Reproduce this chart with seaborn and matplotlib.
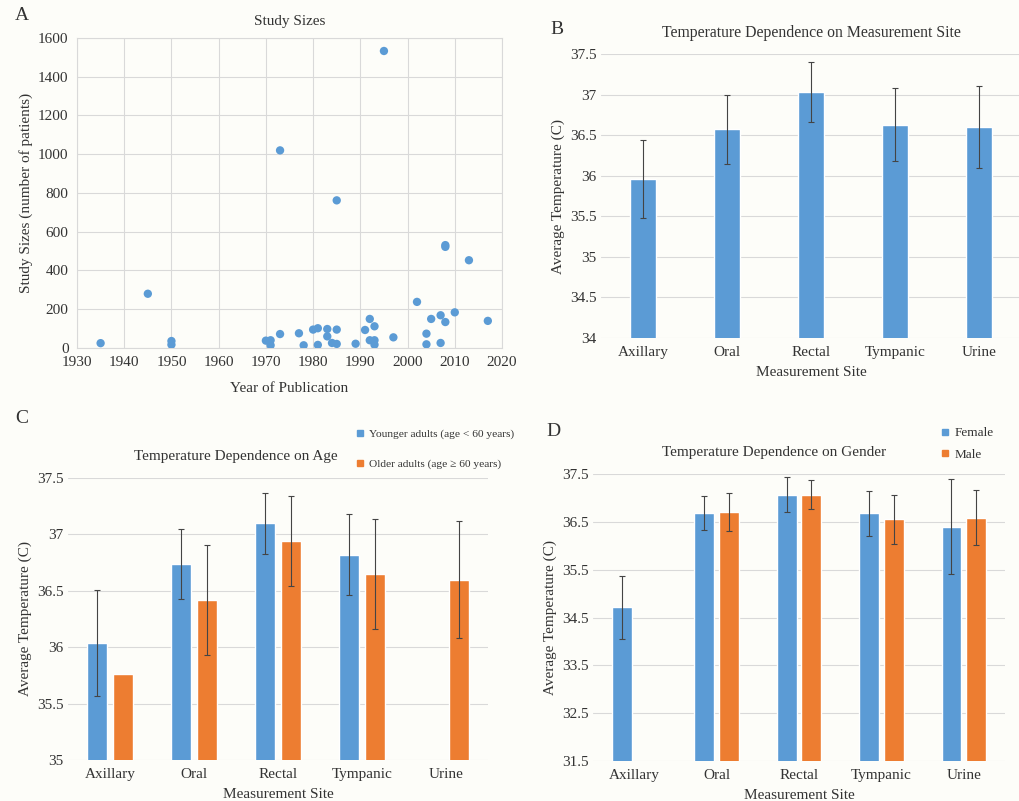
import numpy as np
import pandas as pd
import matplotlib
matplotlib.use("Agg")
import matplotlib.pyplot as plt
import seaborn as sns
from matplotlib.lines import Line2D

# ---------------- data ----------------
pub_years = [1935, 1945, 1950, 1950, 1970, 1971, 1971, 1973, 1973, 1977, 1978,
             1980, 1981, 1981, 1983, 1983, 1984, 1985, 1985, 1985, 1989, 1991,
             1992, 1992, 1993, 1993, 1993, 1995, 1997, 2002, 2004, 2004, 2005,
             2007, 2007, 2008, 2008, 2008, 2010, 2013, 2017]
study_sizes = [25, 280, 36, 17, 38, 40, 14, 1020, 72, 76, 14,
               95, 102, 16, 98, 60, 26, 95, 21, 762, 22, 93,
               150, 40, 112, 40, 17, 1533, 55, 238, 74, 19, 150,
               169, 26, 531, 522, 134, 184, 453, 140]

sites = ["Axillary", "Oral", "Rectal", "Tympanic", "Urine"]

site_mean = [35.96, 36.57, 37.03, 36.63, 36.60]
site_err = [0.48, 0.43, 0.37, 0.45, 0.51]

age_groups = ["Younger adults (age < 60 years)", "Older adults (age \u2265 60 years)"]
young_mean = [36.04, 36.74, 37.10, 36.82, np.nan]
young_err = [0.47, 0.31, 0.27, 0.36, np.nan]
old_mean = [35.76, 36.42, 36.94, 36.65, 36.60]
old_err = [np.nan, 0.49, 0.40, 0.49, 0.52]

genders = ["Female", "Male"]
female_mean = [34.71, 36.68, 37.07, 36.68, 36.40]
female_err = [0.66, 0.35, 0.37, 0.47, 1.00]
male_mean = [np.nan, 36.70, 37.07, 36.55, 36.59]
male_err = [np.nan, 0.40, 0.30, 0.52, 0.58]

# ---------------- style ----------------
BLUE = "#5B9BD5"
ORANGE = "#ED7D31"
GRID = "#D9D9D9"
TXT = "#333333"
ERR = "#444444"
BG = "#FDFDF9"
FS = 11

sns.set_theme(style="white")
plt.rcParams["font.family"] = ["Liberation Serif", "DejaVu Serif"]
plt.rcParams["text.color"] = TXT
plt.rcParams["axes.labelcolor"] = TXT
plt.rcParams["xtick.color"] = TXT
plt.rcParams["ytick.color"] = TXT

W, H = 1019, 801
fig = plt.figure(figsize=(W / 100, H / 100), dpi=100, facecolor=BG)


def px_axes(l, t, r, b):
    return fig.add_axes([l / W, 1 - b / H, (r - l) / W, (b - t) / H])


def style_bar_axes(ax, ymin, ymax, ticks):
    ax.set_facecolor(BG)
    ax.set_ylim(ymin, ymax)
    ax.set_yticks(ticks)
    ax.set_yticklabels([f"{t:g}" for t in ticks])
    ax.set_xlim(-0.5, 4.5)
    ax.grid(axis="y", color=GRID, linewidth=0.8)
    ax.set_axisbelow(True)
    for s in ax.spines.values():
        s.set_visible(False)
    ax.tick_params(axis="y", length=0, labelsize=FS, pad=3)
    ax.tick_params(axis="x", length=0, labelsize=FS, pad=6)
    ax.set_ylabel("Average Temperature (C)", fontsize=FS, labelpad=4)
    ax.set_xlabel("Measurement Site", fontsize=FS, labelpad=5)


# ---------------- Panel A ----------------
axA = px_axes(77, 38, 502, 348)
axA.set_facecolor(BG)
sns.scatterplot(x=pub_years, y=study_sizes, ax=axA, color=BLUE, s=36,
                edgecolor="none", zorder=3)
axA.set_xlim(1930, 2020)
axA.set_ylim(0, 1600)
axA.set_xticks(range(1930, 2021, 10))
axA.set_yticks(range(0, 1601, 200))
axA.grid(True, color=GRID, linewidth=0.8)
axA.set_axisbelow(True)
for s in axA.spines.values():
    s.set_color(GRID)
    s.set_linewidth(0.8)
axA.tick_params(axis="y", length=0, labelsize=FS, pad=6)
axA.tick_params(axis="x", length=0, labelsize=FS, pad=6)
axA.set_xlabel("Year of Publication", fontsize=FS, labelpad=9)
axA.set_ylabel("Study Sizes (number of patients)", fontsize=FS, labelpad=4)
axA.set_title("Study Sizes", fontsize=FS, pad=9)
fig.text(22 / W, 1 - 15 / H, "A", fontsize=14, ha="center", va="center")

# ---------------- Panel B ----------------
axB = px_axes(601, 54, 1021, 338)
dfB = pd.DataFrame({"site": sites, "temp": site_mean})
sns.barplot(data=dfB, x="site", y="temp", order=sites, color=BLUE,
            width=0.31, errorbar=None, ax=axB, saturation=1)
axB.errorbar(np.arange(len(sites)), site_mean, yerr=site_err, fmt="none",
             ecolor=ERR, elinewidth=0.8, capsize=2, capthick=0.8, zorder=4)
style_bar_axes(axB, 34, 37.5, np.arange(34, 37.51, 0.5))
axB.set_title("Temperature Dependence on Measurement Site", fontsize=11.3, pad=12)
fig.text(557 / W, 1 - 30 / H, "B", fontsize=14, ha="center", va="center")


def grouped(ax, g_names, m1, e1, m2, e2):
    df = pd.DataFrame({
        "site": sites * 2,
        "group": [g_names[0]] * len(sites) + [g_names[1]] * len(sites),
        "temp": list(m1) + list(m2),
    })
    sns.barplot(data=df, x="site", y="temp", hue="group", order=sites,
                hue_order=g_names, palette=[BLUE, ORANGE], width=0.6, gap=0.2,
                errorbar=None, ax=ax, saturation=1, legend=False)
    idx = np.arange(len(sites))
    for off, m, e in ((-0.15, m1, e1), (0.15, m2, e2)):
        ax.errorbar(idx + off, m, yerr=e, fmt="none", ecolor=ERR,
                    elinewidth=0.8, capsize=2, capthick=0.8, zorder=4)


# ---------------- Panel C ----------------
axC = px_axes(68, 478, 488, 760)
grouped(axC, age_groups, young_mean, young_err, old_mean, old_err)
style_bar_axes(axC, 35, 37.5, np.arange(35, 37.51, 0.5))
axC.set_title("Temperature Dependence on Age", fontsize=FS, pad=13, x=0.4)
hC = [Line2D([], [], marker="s", color=c, linestyle="none", markersize=4)
      for c in (BLUE, ORANGE)]
axC.legend(hC, age_groups, loc="center left", bbox_to_anchor=(356 / W, 1 - 449 / H),
           bbox_transform=fig.transFigure, frameon=False, fontsize=8.2,
           handlelength=0.7, handletextpad=0.4, labelspacing=1.75,
           borderaxespad=0, borderpad=0)
fig.text(22 / W, 1 - 418 / H, "C", fontsize=14, ha="center", va="center")

# ---------------- Panel D ----------------
axD = px_axes(593, 474, 1005, 761)
grouped(axD, genders, female_mean, female_err, male_mean, male_err)
style_bar_axes(axD, 31.5, 37.5, np.arange(31.5, 37.51, 1.0))
axD.set_title("Temperature Dependence on Gender", fontsize=FS, pad=13, x=0.44)
hD = [Line2D([], [], marker="s", color=c, linestyle="none", markersize=4)
      for c in (BLUE, ORANGE)]
axD.legend(hD, genders, loc="center left", bbox_to_anchor=(940 / W, 1 - 444 / H),
           bbox_transform=fig.transFigure, frameon=False, fontsize=9.5,
           handlelength=0.7, handletextpad=0.4, labelspacing=0.7,
           borderaxespad=0, borderpad=0)
fig.text(553 / W, 1 - 432 / H, "D", fontsize=14, ha="center", va="center")

fig.savefig("out.png", dpi=100, facecolor=BG)
